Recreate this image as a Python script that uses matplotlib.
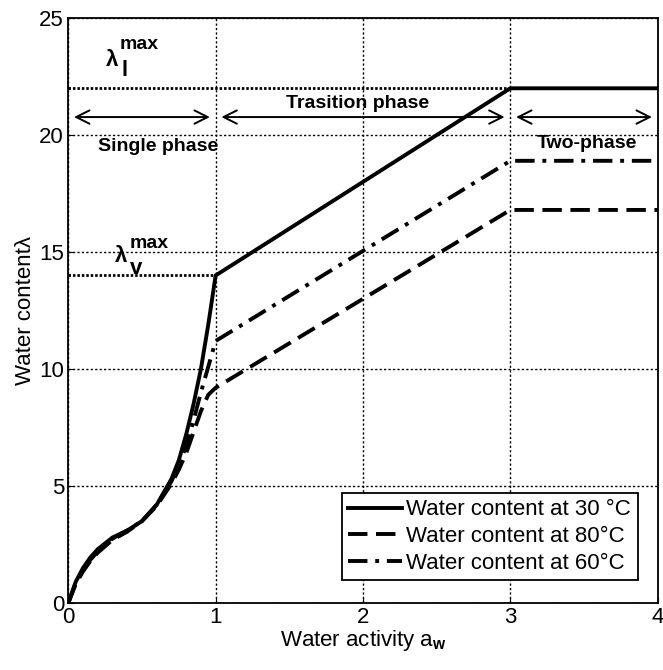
import numpy as np
import matplotlib
matplotlib.use("Agg")
import matplotlib.pyplot as plt

plt.rcParams['font.family'] = 'Liberation Sans'
plt.rcParams['mathtext.fontset'] = 'custom'
plt.rcParams['mathtext.rm'] = 'Liberation Sans'
plt.rcParams['mathtext.bf'] = 'Liberation Sans:bold'

# water activity points
aw = [0, 0.05, 0.1, 0.15, 0.2, 0.3, 0.4, 0.5, 0.6, 0.7, 0.75, 0.8, 0.85, 0.9, 0.95, 1.0, 3.0, 4.0]
# water content at 30 C
lam30 = [0, 0.9, 1.5, 1.95, 2.3, 2.8, 3.1, 3.5, 4.2, 5.3, 6.1, 7.2, 8.5, 10.0, 11.9, 14.0, 22.0, 22.0]
# water content at 80 C
lam80 = [0, 0.8, 1.35, 1.8, 2.15, 2.7, 3.05, 3.5, 4.15, 5.1, 5.7, 6.4, 7.3, 8.2, 8.9, 9.2, 16.8, 16.8]
# water content at 60 C
lam60 = [0, 0.85, 1.4, 1.85, 2.2, 2.75, 3.1, 3.5, 4.2, 5.2, 5.9, 6.7, 7.8, 9.0, 10.1, 11.2, 18.9, 18.9]

lam_l_max = 22.0
lam_v_max = 14.0

fig = plt.figure(figsize=(6.63, 6.7), dpi=100)
ax = fig.add_axes([0.103, 0.1, 0.889, 0.873])

ax.plot(aw, lam30, color='black', lw=2.8, ls='-', label='Water content at 30 \u00b0C')
ax.plot(aw, lam80, color='black', lw=2.8, ls=(0, (5, 2.2)), label='Water content at 80\u00b0C')
ax.plot(aw, lam60, color='black', lw=2.8, ls=(0, (5, 2, 1, 2)), label='Water content at 60\u00b0C')

# limit lines
ax.plot([0, 3], [lam_l_max, lam_l_max], color='black', lw=2, ls=(0, (0.9, 0.7)))
ax.plot([0, 1], [lam_v_max, lam_v_max], color='black', lw=2, ls=(0, (0.9, 0.7)))

ax.set_xlim(0, 4)
ax.set_ylim(0, 25)
ax.set_xticks([0, 1, 2, 3, 4])
ax.set_yticks([0, 5, 10, 15, 20, 25])
ax.grid(True, color='black', ls=(0, (1.6, 1.6)), lw=1)
ax.tick_params(labelsize=16, direction='in', length=4, pad=3)
for s in ax.spines.values():
    s.set_linewidth(1.3)

ax.set_xlabel('Water activity a$_\\mathbf{w}$', fontsize=16, labelpad=0)
ax.set_ylabel('Water content\u03bb', fontsize=16, labelpad=2)

# phase arrows
for x0, x1 in [(0.02, 0.98), (1.02, 2.98), (3.02, 3.98)]:
    ax.annotate('', xy=(x1, 20.77), xytext=(x0, 20.77),
                arrowprops=dict(arrowstyle='<->', color='black', lw=1.4,
                                mutation_scale=24))
ax.text(0.61, 19.5, 'Single phase', fontsize=14, fontweight='bold', ha='center', va='center')
ax.text(1.96, 21.35, 'Trasition phase', fontsize=14, fontweight='bold', ha='center', va='center')
ax.text(3.52, 19.65, 'Two-phase', fontsize=14, fontweight='bold', ha='center', va='center')

# lambda labels
ax.text(0.30, 23.2, '\u03bb', fontsize=16, fontweight='bold', ha='center', va='center')
ax.text(0.48, 23.85, 'max', fontsize=14, fontweight='bold', ha='center', va='center')
ax.text(0.38, 22.75, 'l', fontsize=16, fontweight='bold', ha='center', va='center')
ax.text(0.36, 14.8, '\u03bb', fontsize=16, fontweight='bold', ha='center', va='center')
ax.text(0.55, 15.35, 'max', fontsize=14, fontweight='bold', ha='center', va='center')
ax.text(0.46, 14.3, 'v', fontsize=16, fontweight='bold', ha='center', va='center')

leg = ax.legend(loc='lower right', bbox_to_anchor=(0.966, 0.039), fontsize=16,
                frameon=True, fancybox=False, edgecolor='black', framealpha=1,
                handlelength=2.4, handletextpad=0.2, borderpad=0.3, labelspacing=0.25,
                borderaxespad=0)
leg.get_frame().set_linewidth(1.3)

fig.savefig('out.png', dpi=100)
